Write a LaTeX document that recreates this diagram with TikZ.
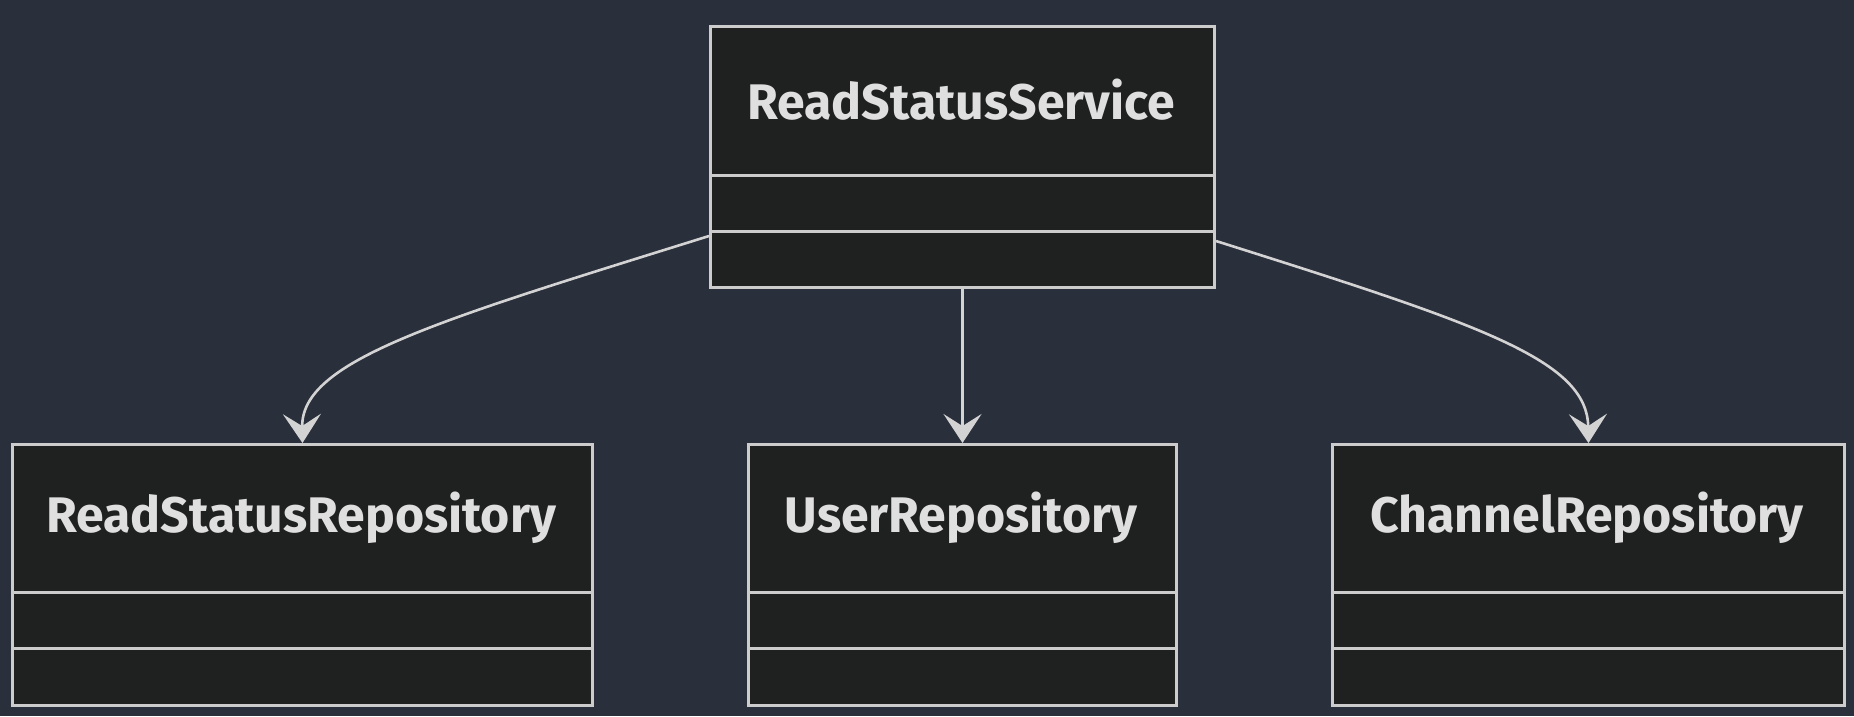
\documentclass[tikz,border=0pt]{standalone}
\usepackage{fontspec}
\setmainfont{Fira Sans}
\usetikzlibrary{arrows.meta}
\definecolor{bg}{HTML}{2A2F3C}
\definecolor{boxfill}{HTML}{1F2020}
\definecolor{boxline}{HTML}{CCCCCC}
\definecolor{edgecol}{HTML}{D3D3D3}
\definecolor{txt}{HTML}{E0DFDF}
\begin{document}
\begin{tikzpicture}[x=1pt,y=-1pt,
  classbox/.style={draw=boxline, fill=boxfill, line width=3pt, inner sep=0pt, anchor=north west},
  divider/.style={draw=boxline, line width=3pt},
  classname/.style={text=txt, font=\fontsize{50}{60}\selectfont\bfseries, inner sep=0pt},
  dep/.style={draw=edgecol, line width=2.6pt, -{Stealth[length=29pt,width=38pt,inset=12pt]}}]
\fill[bg] (0,0) rectangle (1854,716);
\useasboundingbox (0,0) rectangle (1854,716);
% top class
\node[classbox, minimum width=504pt, minimum height=261pt] (svc) at (709,25) {};
\draw[divider] ([yshift=-150pt]svc.north west) -- ([yshift=-150pt]svc.north east);
\draw[divider] ([yshift=-206pt]svc.north west) -- ([yshift=-206pt]svc.north east);
\node[classname] (svcT) at (961,100) {ReadStatusService};
% left class
\node[classbox, minimum width=580pt, minimum height=261pt] (rsr) at (11,443) {};
\draw[divider] ([yshift=-149pt]rsr.north west) -- ([yshift=-149pt]rsr.north east);
\draw[divider] ([yshift=-205pt]rsr.north west) -- ([yshift=-205pt]rsr.north east);
\node[classname] (rsrT) at (301,518) {ReadStatusRepository};
% middle class
\node[classbox, minimum width=428pt, minimum height=261pt] (ur) at (747,443) {};
\draw[divider] ([yshift=-149pt]ur.north west) -- ([yshift=-149pt]ur.north east);
\draw[divider] ([yshift=-205pt]ur.north west) -- ([yshift=-205pt]ur.north east);
\node[classname] (urT) at (961,518) {UserRepository};
% right class
\node[classbox, minimum width=512pt, minimum height=261pt] (cr) at (1331,443) {};
\draw[divider] ([yshift=-149pt]cr.north west) -- ([yshift=-149pt]cr.north east);
\draw[divider] ([yshift=-205pt]cr.north west) -- ([yshift=-205pt]cr.north east);
\node[classname] (crT) at (1587,518) {ChannelRepository};
% edges
\draw[dep] ([yshift=-211pt]svc.north west) .. controls (440,320) and (301,360) .. (rsr.north);
\draw[dep] (svc.south) -- (ur.north);
\draw[dep] ([yshift=-216pt]svc.north east) .. controls (1482,325) and (1587,360) .. (cr.north);
\end{tikzpicture}
\end{document}
